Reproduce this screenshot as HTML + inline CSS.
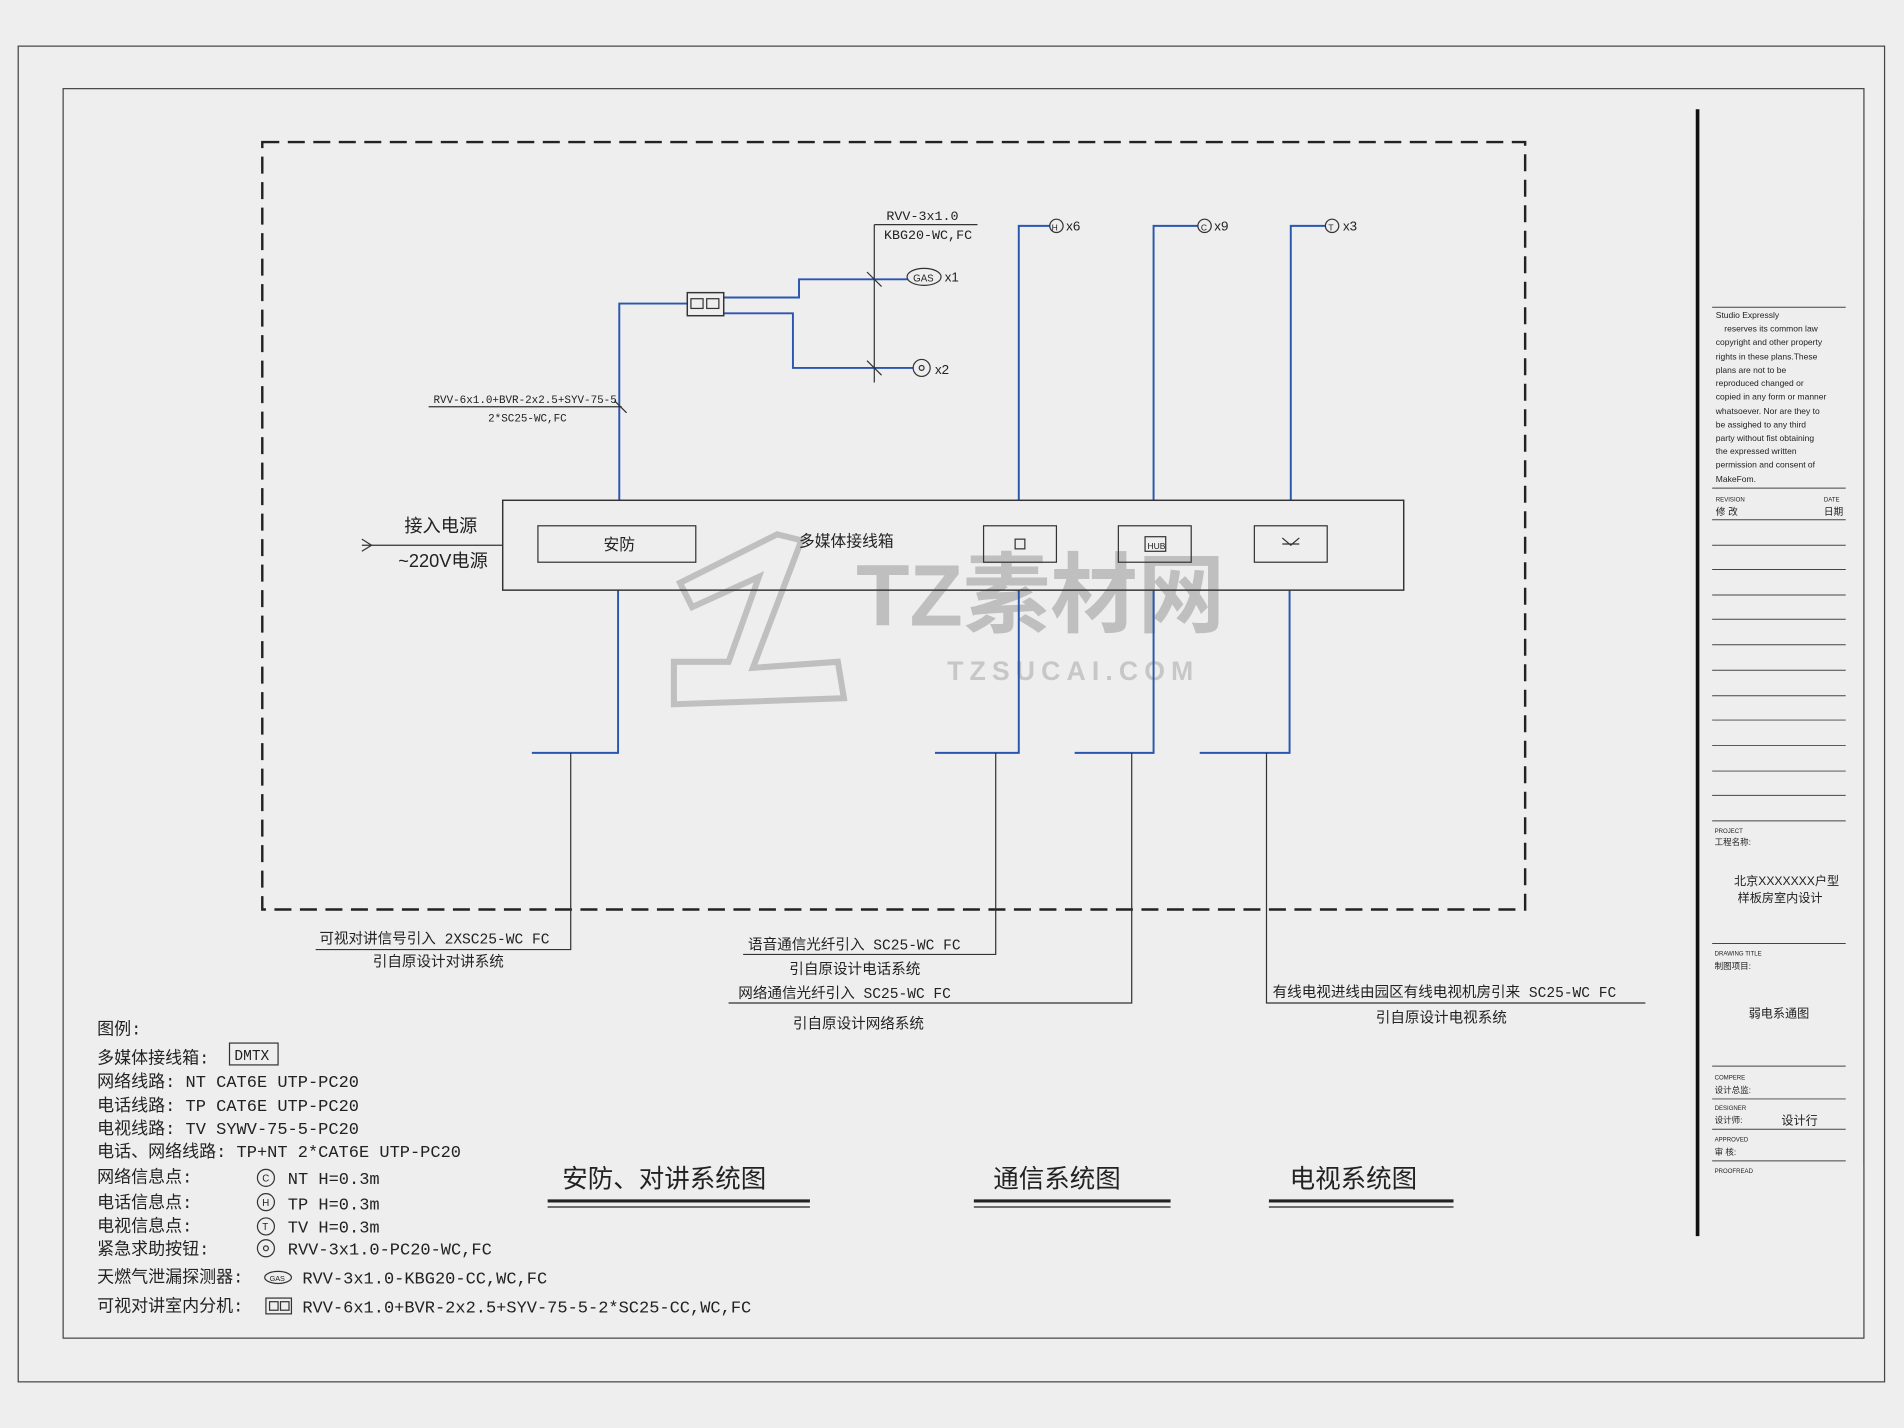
<!DOCTYPE html>
<html><head><meta charset="utf-8"><style>
html,body{margin:0;padding:0;background:#eeeeee;}
svg{display:block;}
text{font-family:"Liberation Sans","Noto Sans CJK SC",sans-serif;fill:#222;}
.m{font-family:"Liberation Mono","Noto Sans CJK SC",monospace;}
</style></head><body>
<svg width="1904" height="1428" viewBox="0 0 1568 1176" xmlns="http://www.w3.org/2000/svg">
<rect width="1568" height="1176" fill="#eeeeee"/>
<g fill="none" stroke="#444" stroke-width="1">
<rect x="15" y="38" width="1537" height="1100"/>
<rect x="52" y="73" width="1483" height="1029"/>
</g>
<line x1="1398" y1="90" x2="1398" y2="1018" stroke="#111" stroke-width="3"/>
<line x1="1535" y1="180" x2="1535" y2="960" stroke="#555" stroke-width="1"/>
<rect x="216" y="117" width="1040" height="632" fill="none" stroke="#222" stroke-width="2" stroke-dasharray="14,7"/>
<g opacity="0.45">
<text x="705" y="515" font-size="72" font-weight="bold" style="fill:#888">TZ素材网</text>
<text x="780" y="560" font-size="22" font-weight="bold" letter-spacing="5" style="fill:#999">TZSUCAI.COM</text>
<path d="M560 480 L640 440 L660 445 L620 550 L690 545 L695 575 L555 580 L555 545 L600 545 L625 475 L570 500 Z" fill="none" stroke="#888" stroke-width="5"/>
</g>
<g fill="none" stroke="#2a55b0" stroke-width="1.6">
<path d="M510 412 V250 H566"/>
<path d="M596 245 H658 V230 H748"/>
<path d="M596 258 H653 V303 H752"/>
<path d="M839 412 V186 H865"/>
<path d="M950 412 V186 H987"/>
<path d="M1063 412 V186 H1092"/>
<path d="M509 486 V620 H438"/>
<path d="M839 486 V620 H770"/>
<path d="M950 486 V620 H885"/>
<path d="M1062 486 V620 H988"/>
</g>
<g fill="none" stroke="#333" stroke-width="1">
<path d="M720 185 H805 M720 185 V315"/>
<line x1="714" y1="224" x2="726" y2="236"/><line x1="714" y1="297" x2="726" y2="309"/>
<path d="M353 335 H512"/><line x1="506" y1="330" x2="516" y2="340"/>
<path d="M470 620 V782 H260"/>
<path d="M820 620 V786 H612"/>
<path d="M932 620 V826 H600"/>
<path d="M1043 620 V826 H1355"/>
<path d="M298 449 H414"/><path d="M298 444 L306 449 L298 454"/>
<rect x="566" y="241" width="30" height="19" stroke-width="1.2"/>
<rect x="569" y="246" width="10" height="8"/><rect x="582" y="246" width="10" height="8"/>
<ellipse cx="761" cy="228" rx="14" ry="7"/>
<circle cx="759" cy="303" r="7"/><circle cx="759" cy="303" r="2"/>
<circle cx="870" cy="186" r="5.5"/><circle cx="992" cy="186" r="5.5"/><circle cx="1097" cy="186" r="5.5"/>
<rect x="414" y="412" width="742" height="74" stroke="#333" stroke-width="1.2"/>
<rect x="443" y="433" width="130" height="30"/>
<rect x="810" y="433" width="60" height="30"/>
<rect x="921" y="433" width="60" height="30"/>
<rect x="1033" y="433" width="60" height="30"/>
<rect x="943" y="442" width="17" height="12"/>
<rect x="836" y="444" width="8" height="8"/>
<path d="M1056 443 L1063 449 L1070 443 M1056 448 H1070"/>
</g>
<g font-size="11" class="m">
<text x="730" y="181" class="m">RVV-3x1.0</text>
<text x="728" y="197" class="m">KBG20-WC,FC</text>
<text x="778" y="232">x1</text>
<text x="770" y="308">x2</text>
<text x="878" y="190">x6</text><text x="1000" y="190">x9</text><text x="1106" y="190">x3</text>
<text x="752" y="232" font-size="8">GAS</text>
<text x="866" y="190" font-size="7">H</text><text x="989" y="190" font-size="7">C</text><text x="1094" y="190" font-size="7">T</text>
<text x="357" y="332" font-size="9" class="m">RVV-6x1.0+BVR-2x2.5+SYV-75-5</text>
<text x="402" y="347" font-size="9" class="m">2*SC25-WC,FC</text>
<text x="945" y="452" font-size="7">HUB</text>
</g>
<text x="333" y="438" font-size="15">接入电源</text>
<text x="328" y="467" font-size="15">~220V电源</text>
<text x="497" y="453" font-size="13">安防</text>
<text x="658" y="450" font-size="13">多媒体接线箱</text>
<g font-size="12" class="m">
<text x="263" y="777" class="m">可视对讲信号引入 2XSC25-WC FC</text>
<text x="307" y="796" class="m">引自原设计对讲系统</text>
<text x="616" y="782" class="m">语音通信光纤引入 SC25-WC FC</text>
<text x="650" y="802" class="m">引自原设计电话系统</text>
<text x="608" y="822" class="m">网络通信光纤引入 SC25-WC FC</text>
<text x="653" y="847" class="m">引自原设计网络系统</text>
<text x="1048" y="821" class="m">有线电视进线由园区有线电视机房引来 SC25-WC FC</text>
<text x="1133" y="842" class="m">引自原设计电视系统</text>
</g>
<g font-size="14">
<text x="80" y="852" class="m">图例:</text>
<text x="80" y="876" class="m">多媒体接线箱:</text>
<text x="80" y="895" class="m">网络线路:  NT  CAT6E UTP-PC20</text>
<text x="80" y="915" class="m">电话线路:  TP  CAT6E UTP-PC20</text>
<text x="80" y="934" class="m">电视线路:  TV  SYWV-75-5-PC20</text>
<text x="80" y="953" class="m">电话、网络线路: TP+NT  2*CAT6E UTP-PC20</text>
<text x="80" y="974" class="m">网络信息点:</text><text x="237" y="975" class="m">NT  H=0.3m</text>
<text x="80" y="995" class="m">电话信息点:</text><text x="237" y="996" class="m">TP  H=0.3m</text>
<text x="80" y="1014" class="m">电视信息点:</text><text x="237" y="1015" class="m">TV  H=0.3m</text>
<text x="80" y="1033" class="m">紧急求助按钮:</text><text x="237" y="1033" class="m">RVV-3x1.0-PC20-WC,FC</text>
<text x="80" y="1056" class="m">天燃气泄漏探测器:</text><text x="249" y="1057" class="m">RVV-3x1.0-KBG20-CC,WC,FC</text>
<text x="80" y="1080" class="m">可视对讲室内分机:</text><text x="249" y="1081" class="m">RVV-6x1.0+BVR-2x2.5+SYV-75-5-2*SC25-CC,WC,FC</text>
</g>
<g fill="none" stroke="#333">
<rect x="189" y="859" width="40" height="18"/>
<circle cx="219" cy="970" r="7"/><circle cx="219" cy="990" r="7"/><circle cx="219" cy="1010" r="7"/><circle cx="219" cy="1028" r="7"/><circle cx="219" cy="1028" r="2"/>
<ellipse cx="229" cy="1052" rx="11" ry="5"/>
<rect x="219" y="1069" width="21" height="13"/>
<rect x="222" y="1072" width="7" height="7"/><rect x="231" y="1072" width="7" height="7"/>
</g>
<text x="193" y="873" font-size="12" class="m">DMTX</text>
<g font-size="8"><text x="216" y="973">C</text><text x="216" y="993">H</text><text x="216" y="1013">T</text><text x="222" y="1055" font-size="6">GAS</text></g>
<g font-size="21">
<text x="463" y="978">安防、对讲系统图</text>
<text x="818" y="978">通信系统图</text>
<text x="1062" y="978">电视系统图</text>
</g>
<g stroke="#222">
<line x1="451" y1="989" x2="667" y2="989" stroke-width="2.5"/><line x1="451" y1="994" x2="667" y2="994"/>
<line x1="802" y1="989" x2="964" y2="989" stroke-width="2.5"/><line x1="802" y1="994" x2="964" y2="994"/>
<line x1="1045" y1="989" x2="1197" y2="989" stroke-width="2.5"/><line x1="1045" y1="994" x2="1197" y2="994"/>
</g>
<g stroke="#444" stroke-width="0.8">
<line x1="1410" y1="253" x2="1520" y2="253"/>
<line x1="1410" y1="402" x2="1520" y2="402"/>
<line x1="1410" y1="428" x2="1520" y2="428"/>
<line x1="1410" y1="449" x2="1520" y2="449"/><line x1="1410" y1="469" x2="1520" y2="469"/>
<line x1="1410" y1="490" x2="1520" y2="490"/><line x1="1410" y1="510" x2="1520" y2="510"/>
<line x1="1410" y1="531" x2="1520" y2="531"/><line x1="1410" y1="552" x2="1520" y2="552"/>
<line x1="1410" y1="573" x2="1520" y2="573"/><line x1="1410" y1="593" x2="1520" y2="593"/>
<line x1="1410" y1="614" x2="1520" y2="614"/><line x1="1410" y1="635" x2="1520" y2="635"/>
<line x1="1410" y1="655" x2="1520" y2="655"/><line x1="1410" y1="676" x2="1520" y2="676"/>
<line x1="1410" y1="777" x2="1520" y2="777"/>
<line x1="1410" y1="878" x2="1520" y2="878"/>
<line x1="1410" y1="905" x2="1520" y2="905"/>
<line x1="1410" y1="930" x2="1520" y2="930"/>
<line x1="1410" y1="956" x2="1520" y2="956"/>
</g>
<g font-size="7">
<text x="1413" y="262">Studio Expressly</text>
<text x="1420" y="273">reserves its common law</text>
<text x="1413" y="284">copyright and other property</text>
<text x="1413" y="296">rights in these plans.These</text>
<text x="1413" y="307">plans are not to be</text>
<text x="1413" y="318">reproduced changed or</text>
<text x="1413" y="329">copied in any form or manner</text>
<text x="1413" y="341">whatsoever. Nor are they to</text>
<text x="1413" y="352">be assighed to any third</text>
<text x="1413" y="363">party without fist obtaining</text>
<text x="1413" y="374">the expressed written</text>
<text x="1413" y="385">permission and consent of</text>
<text x="1413" y="397">MakeFom.</text>
<text x="1413" y="413" font-size="5">REVISION</text><text x="1502" y="413" font-size="5">DATE</text>
<text x="1413" y="424" font-size="8">修 改</text><text x="1502" y="424" font-size="8">日期</text>
<text x="1412" y="686" font-size="5">PROJECT</text>
<text x="1412" y="696">工程名称:</text>
<text x="1428" y="729" font-size="10">北京XXXXXXX户型</text>
<text x="1431" y="743" font-size="10">样板房室内设计</text>
<text x="1412" y="787" font-size="5">DRAWING TITLE</text>
<text x="1412" y="798">制图项目:</text>
<text x="1440" y="838" font-size="10">弱电系通图</text>
<text x="1412" y="889" font-size="5">COMPERE</text><text x="1412" y="900">设计总监:</text>
<text x="1412" y="914" font-size="5">DESIGNER</text><text x="1412" y="925">设计师:</text>
<text x="1467" y="926" font-size="10">设计行</text>
<text x="1412" y="940" font-size="5">APPROVED</text><text x="1412" y="951">审 核:</text>
<text x="1412" y="966" font-size="5">PROOFREAD</text>
</g>
</svg>
</body></html>
